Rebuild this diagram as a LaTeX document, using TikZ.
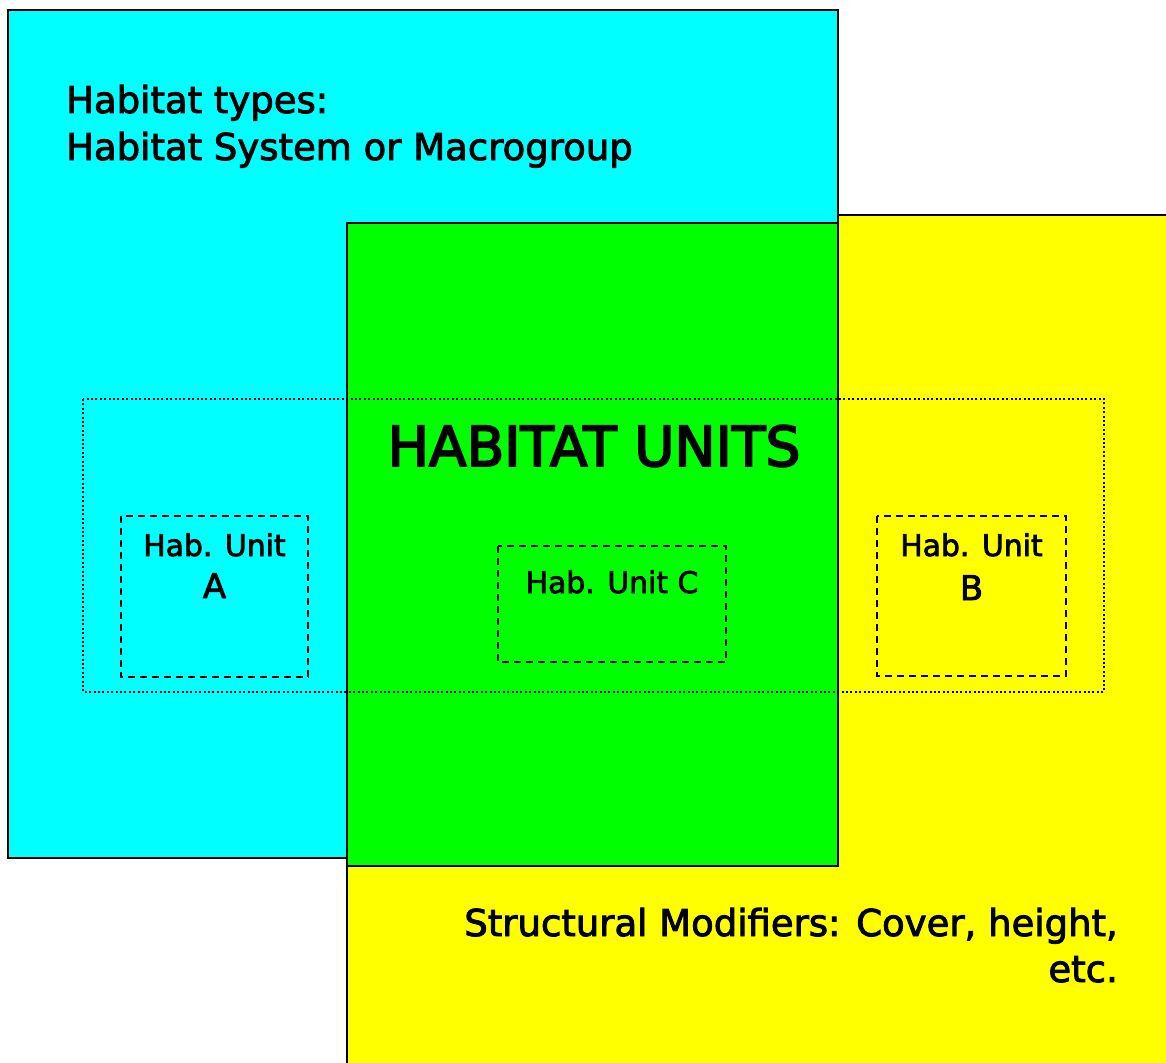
\documentclass[tikz,border=0pt]{standalone}
\usepackage{fontspec}
\setmainfont{DejaVu Sans}[FakeBold=2.5]
\newfontfamily\titlefont{DejaVu Sans}[FakeBold=3.5]
\definecolor{cyanfill}{HTML}{00FFFF}
\definecolor{greenfill}{HTML}{00FF00}
\definecolor{yellowfill}{HTML}{FFFF00}
\tikzset{
  bigbox/.style={draw=black, line width=2.4pt},
  unitbox/.style={draw=black, line width=1.6pt, dash pattern=on 7pt off 5pt},
  groupbox/.style={draw=black, line width=2pt, dash pattern=on 2pt off 2.4pt},
  lbl/.style={inner sep=0pt, text=black},
}
\begin{document}
\begin{tikzpicture}[x=1pt, y=-1pt]
\useasboundingbox (0,0) rectangle (1166,1062);
\clip (0,0) rectangle (1166,1062);
% yellow: structural modifiers
\filldraw[bigbox, fill=yellowfill] (347,215) rectangle (1180,1080);
% cyan: habitat types
\filldraw[bigbox, fill=cyanfill] (8,10) rectangle (838,858);
% green: habitat units
\filldraw[bigbox, fill=greenfill] (347,223) rectangle (838,866);
% dotted group
\draw[groupbox] (83,399) rectangle (1104,692);
% dashed units
\draw[unitbox] (121,516) rectangle (308,677);
\draw[unitbox] (498,546) rectangle (726,662);
\draw[unitbox] (877,516) rectangle (1066,676);
% texts
\node[lbl, anchor=base west, font=\fontsize{37}{44}\selectfont] (typesA) at (66,113) {Habitat types:};
\node[lbl, anchor=base west, font=\fontsize{37}{44}\selectfont] (typesB) at (66,160) {Habitat System or Macrogroup};
\node[lbl, anchor=base, font=\titlefont\fontsize{55}{64}\selectfont] (units) at (594,466) {HABITAT UNITS};
\node[lbl, anchor=base, font=\fontsize{29.8}{36}\selectfont] (hubA) at (214.5,556) {Hab. Unit};
\node[lbl, anchor=base, font=\fontsize{34}{40}\selectfont] (letA) at (214.5,598) {A};
\node[lbl, anchor=base, font=\fontsize{29.8}{36}\selectfont] (hubC) at (612,593) {Hab. Unit C};
\node[lbl, anchor=base, font=\fontsize{29.8}{36}\selectfont] (hubB) at (971.5,556) {Hab. Unit};
\node[lbl, anchor=base, font=\fontsize{34}{40}\selectfont] (letB) at (971.5,600) {B};
\node[lbl, anchor=base east, font=\fontsize{37}{44}\selectfont] (modA) at (1118,936) {Structural Modifiers: Cover, height,};
\node[lbl, anchor=base east, font=\fontsize{37}{44}\selectfont] (modB) at (1118,982) {etc.};
\end{tikzpicture}
\end{document}
